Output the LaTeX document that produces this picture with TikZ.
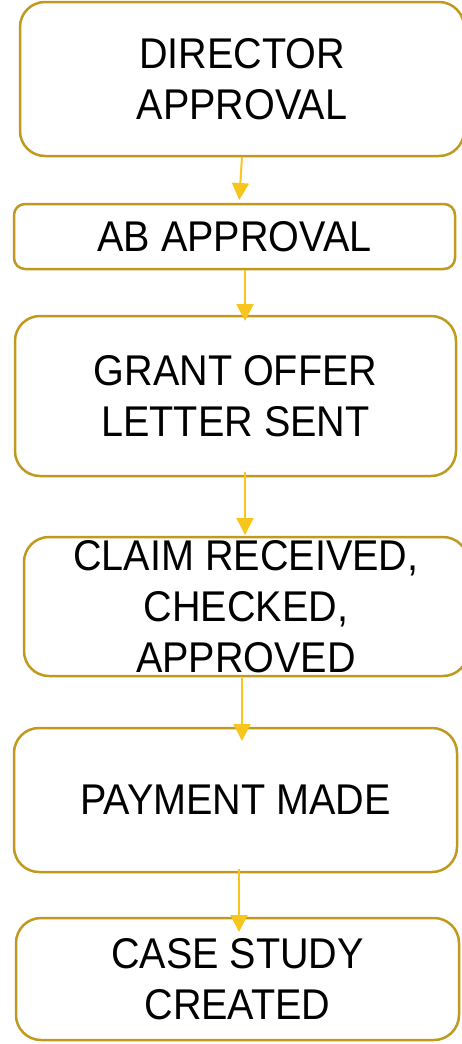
\documentclass[tikz,border=0pt]{standalone}
\usepackage{fontspec}
\setmainfont{Liberation Sans}[FakeStretch=0.92]
\usetikzlibrary{arrows.meta,calc}
\definecolor{gold}{RGB}{192,154,30}
\definecolor{arrowyellow}{RGB}{247,197,27}
\tikzset{
  box/.style={draw=gold, line width=2.5pt, fill=white, inner sep=0pt, outer sep=0pt},
  txt/.style={align=center, inner sep=0pt, font=\fontsize{43}{51}\selectfont},
  flow/.style={draw=arrowyellow, line width=2pt, -{Triangle[width=17pt,length=17pt]}}
}
\begin{document}
\begin{tikzpicture}[x=1pt,y=-1pt]
\useasboundingbox (0,0) rectangle (462,1044);
\node[box, rounded corners=25pt, minimum width=444pt, minimum height=154pt] (b1) at (242,79) {};
\node[box, rounded corners=11pt, minimum width=441pt, minimum height=65pt] (b2) at (234.5,236.5) {};
\node[box, rounded corners=25pt, minimum width=441pt, minimum height=160pt] (b3) at (235.5,396) {};
\node[box, rounded corners=25pt, minimum width=444pt, minimum height=139pt] (b4) at (246,606.5) {};
\node[box, rounded corners=25pt, minimum width=443pt, minimum height=144pt] (b5) at (235.5,800) {};
\node[box, rounded corners=25pt, minimum width=443pt, minimum height=122pt] (b6) at (237.5,979) {};
\node[txt] (t1) at (b1.center) {DIRECTOR\\APPROVAL};
\node[txt] (t2) at (b2.center) {AB APPROVAL};
\node[txt] (t3) at (b3.center) {GRANT OFFER\\LETTER SENT};
\node[txt] (t4) at (b4.center) {CLAIM RECEIVED,\\CHECKED,\\APPROVED};
\node[txt] (t5) at (b5.center) {PAYMENT MADE};
\node[txt] (t6) at (b6.center) {CASE STUDY\\CREATED};
\draw[flow] ($(b1.south)+(0,1)$) -- ($(b2.north)+(4.8,-4)$);
\draw[flow] ($(b2.south)+(10.5,1)$) -- ($(b3.north)+(9.5,5)$);
\draw[flow] ($(b3.south)+(9.5,-4)$) -- ($(b4.north)+(-1,-2)$);
\draw[flow] ($(b4.south)+(-4,2)$) -- ($(b5.north)+(6.5,13)$);
\draw[flow] ($(b5.south)+(3.5,-3)$) -- ($(b6.north)+(1.5,14)$);
\end{tikzpicture}
\end{document}
